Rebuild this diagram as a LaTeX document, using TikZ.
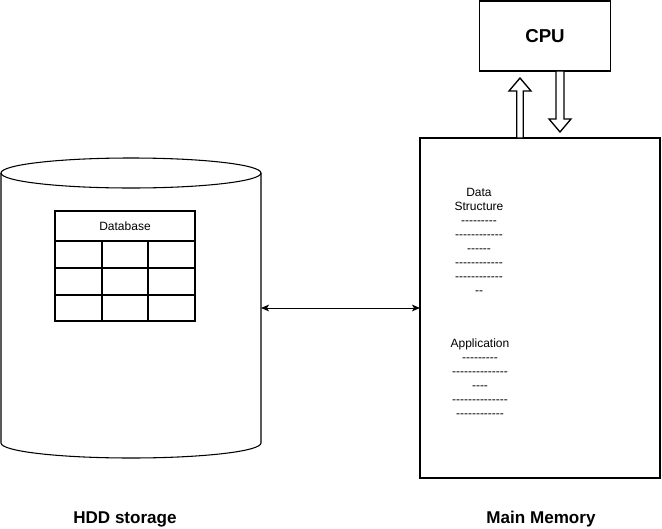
\documentclass[tikz,border=0pt]{standalone}
\usepackage{fontspec}
\setmainfont{Liberation Sans}
\usetikzlibrary{arrows.meta, calc}

% a row of plain hyphens (kern keeps them from joining into dashes)
\newcommand{\dashrow}[1]{\foreach \k in {1,...,#1}{-\kern0pt}}

\begin{document}
\begin{tikzpicture}[
    x=0.75pt, y=-0.75pt,
    every node/.style={font=\fontsize{9}{10.5}\selectfont},
    membox/.style={rectangle, draw, line width=1.5pt, minimum width=180pt, minimum height=255pt, inner sep=0pt, outer sep=0pt},
    cpubox/.style={rectangle, draw, line width=1.1pt, minimum width=98.25pt, minimum height=52.5pt, outer sep=0pt, font=\fontsize{14}{16}\selectfont\bfseries},
    cyl/.style={draw, line width=0.8pt},
    grid/.style={draw, line width=1pt},
    memtext/.style={anchor=north, align=center, inner sep=0pt},
    blockarrow/.style={draw, fill=white, line width=1pt, line join=miter},
    link/.style={{Stealth[length=6pt, width=5pt, inset=1.5pt]}-{Stealth[length=6pt, width=5pt, inset=1.5pt]}, line width=0.75pt},
    caption/.style={font=\fontsize{12.8}{14}\selectfont\bfseries, anchor=base}
]
\useasboundingbox (0,0) rectangle (662,529);

% ============ HDD STORAGE (LEFT) ============
\draw[cyl] (1,173) -- (1,443) arc[start angle=180, end angle=0, x radius=130, y radius=15] -- (261,173);
\draw[cyl] (131,173) ellipse[x radius=130, y radius=15];
\coordinate (hddside) at (261,308);

% Database table
\draw[grid] (55,211) rectangle (195,321);
\draw[grid] (55,241) -- (195,241);
\draw[grid] (55,268) -- (195,268);
\draw[grid] (55,295) -- (195,295);
\draw[grid] (102,241) -- (102,321);
\draw[grid] (148,241) -- (148,321);
\node (dbtitle) at (125,226) {Database};

\node[caption] (hddlabel) at (125,523) {HDD storage};

% ============ MAIN MEMORY (RIGHT) ============
\node[membox] (mem) at (540,308) {};
\node[memtext] (datastruct) at (479,188) {Data\\Structure\\\dashrow{9}\\\dashrow{12}\\\dashrow{6}\\\dashrow{12}\\\dashrow{12}\\\dashrow{2}};
\node[memtext] (app) at (480,339) {Application\\\dashrow{9}\\\dashrow{14}\\\dashrow{4}\\\dashrow{14}\\\dashrow{12}};

\node[caption] (memlabel) at (541,523) {Main Memory};

% ============ CPU (TOP) ============
\node[cpubox] (cpu) at (545,36) {CPU};

% Block arrows between memory and CPU
\coordinate (upfoot) at ($(mem.north)+(-20,0)$);
\coordinate (downtop) at ($(cpu.south)+(15,0)$);
\draw[blockarrow] (upfoot) ++(-3.3,0) -- ++(0,-47) -- ++(-7.7,0) -- ++(11,-13) -- ++(11,13) -- ++(-7.7,0) -- ++(0,47) -- cycle;
\draw[blockarrow] (downtop) ++(-4,0) -- ++(0,48) -- ++(-7,0) -- ++(11,13) -- ++(11,-13) -- ++(-7,0) -- ++(0,-48) -- cycle;

% Transfer between disk and memory
\draw[link] (hddside) -- (mem.west);

\end{tikzpicture}
\end{document}
